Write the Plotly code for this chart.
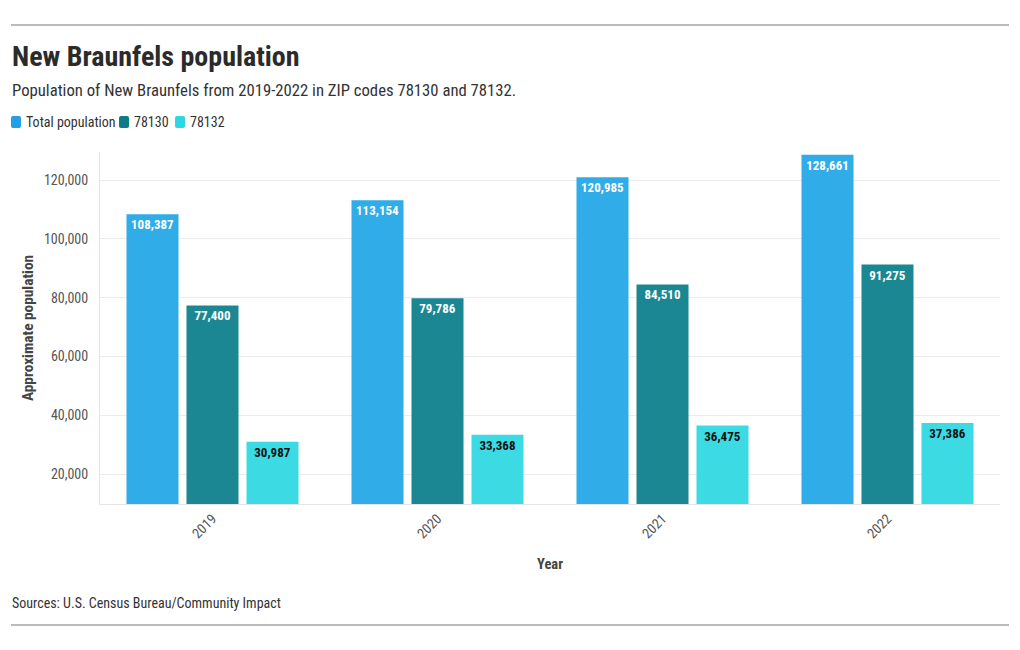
import plotly.graph_objects as go

years = ["2019", "2020", "2021", "2022"]
total_population = [108387, 113154, 120985, 128661]
zip_78130 = [77400, 79786, 84510, 91275]
zip_78132 = [30987, 33368, 36475, 37386]

series_names = ["Total population", "78130", "78132"]
series_values = [total_population, zip_78130, zip_78132]
bar_colors = ["#30ace9", "#1b8793", "#3cdbe3"]
legend_colors = ["#239fe8", "#117a87", "#2dd6e0"]
label_colors = ["#ffffff", "#ffffff", "#111111"]

FONT = "Roboto Condensed, Liberation Sans Narrow, Roboto, sans-serif"

# page body has an 8px margin; reference coordinates are in window pixels
OFF = 8
W, H = 1004, 634
L, R, T, B = 100 - OFF, 1000 - OFF, 152 - OFF, 504 - OFF


def px(x):
    return (x - OFF - L) / (R - L)


def py(y):
    return (B - (y - OFF)) / (B - T)


fig = go.Figure()
for name, vals, color, tcolor in zip(series_names, series_values, bar_colors, label_colors):
    fig.add_trace(go.Bar(
        x=years, y=vals, name=name,
        marker=dict(color=color, line=dict(width=0)),
        text=[f"{v:,}" for v in vals],
        textposition="inside", insidetextanchor="end",
        textfont=dict(family=FONT, size=13, color=tcolor, weight="bold"),
        constraintext="none", textangle=0,
        showlegend=False,
    ))


def rounded_rect(x0, y0, x1, y1, r=2):
    # pixel coords (window) -> paper path with rounded corners
    X = lambda v: px(v)
    Y = lambda v: py(v)
    return (f"M {X(x0 + r)},{Y(y0)} L {X(x1 - r)},{Y(y0)} Q {X(x1)},{Y(y0)} {X(x1)},{Y(y0 + r)} "
            f"L {X(x1)},{Y(y1 - r)} Q {X(x1)},{Y(y1)} {X(x1 - r)},{Y(y1)} "
            f"L {X(x0 + r)},{Y(y1)} Q {X(x0)},{Y(y1)} {X(x0)},{Y(y1 - r)} "
            f"L {X(x0)},{Y(y0 + r)} Q {X(x0)},{Y(y0)} {X(x0 + r)},{Y(y0)} Z")


legend_x = [11, 119, 175]
shapes = [
    dict(type="line", xref="paper", yref="paper", x0=px(11), x1=px(1009),
         y0=py(25), y1=py(25), line=dict(color="#777777", width=1)),
    dict(type="line", xref="paper", yref="paper", x0=px(11), x1=px(1009),
         y0=py(625), y1=py(625), line=dict(color="#777777", width=1)),
]
annotations = [
    dict(text="<b>New Braunfels population</b>", x=px(10), y=py(56),
         xanchor="left", yanchor="middle",
         font=dict(size=28, color="#2b2b2b", family=FONT)),
    dict(text="Population of New Braunfels from 2019-2022 in ZIP codes 78130 and 78132.",
         x=px(10), y=py(90), xanchor="left", yanchor="middle",
         font=dict(size=16.7, color="#333333", family=FONT)),
    dict(text="<b>Approximate population</b>", x=px(28), y=py(328),
         xanchor="center", yanchor="middle", textangle=-90,
         font=dict(size=15.3, color="#444444", family=FONT)),
    dict(text="<b>Year</b>", x=px(550), y=py(564), xanchor="center", yanchor="middle",
         font=dict(size=14.5, color="#444444", family=FONT)),
    dict(text="Sources: U.S. Census Bureau/Community Impact", x=px(10), y=py(603),
         xanchor="left", yanchor="middle",
         font=dict(size=14, color="#333333", family=FONT)),
]
for lx, name, col in zip(legend_x, series_names, legend_colors):
    shapes.append(dict(type="path", xref="paper", yref="paper",
                       path=rounded_rect(lx, 116, lx + 10, 128),
                       fillcolor=col, line=dict(width=0)))
    annotations.append(dict(text=name, x=px(lx + 13), y=py(122), xanchor="left",
                            yanchor="middle",
                            font=dict(size=14, color="#333333", family=FONT)))
for a in annotations:
    a.update(xref="paper", yref="paper", showarrow=False)

fig.update_layout(
    width=W, height=H,
    margin=dict(l=L, r=W - R, t=T, b=H - B, autoexpand=False),
    paper_bgcolor="white", plot_bgcolor="white",
    font=dict(family=FONT, color="#333333"),
    barmode="group", bargap=0.2, bargroupgap=0.133,
    showlegend=False,
    xaxis=dict(showgrid=False, showline=True, linecolor="#e6e6e6", linewidth=1,
               tickangle=-45, tickfont=dict(size=14, color="#555555", family=FONT),
               ticks="", fixedrange=True),
    yaxis=dict(range=[9800, 129600], dtick=20000, tick0=0, tickformat=",",
               showgrid=True, gridcolor="#ebebeb", gridwidth=1,
               showline=True, linecolor="#e6e6e6", linewidth=1,
               zeroline=False, ticks="", ticklabelstandoff=8,
               tickfont=dict(size=14, color="#555555", family=FONT)),
    shapes=shapes,
    annotations=annotations,
)

fig.write_html("out.html")
